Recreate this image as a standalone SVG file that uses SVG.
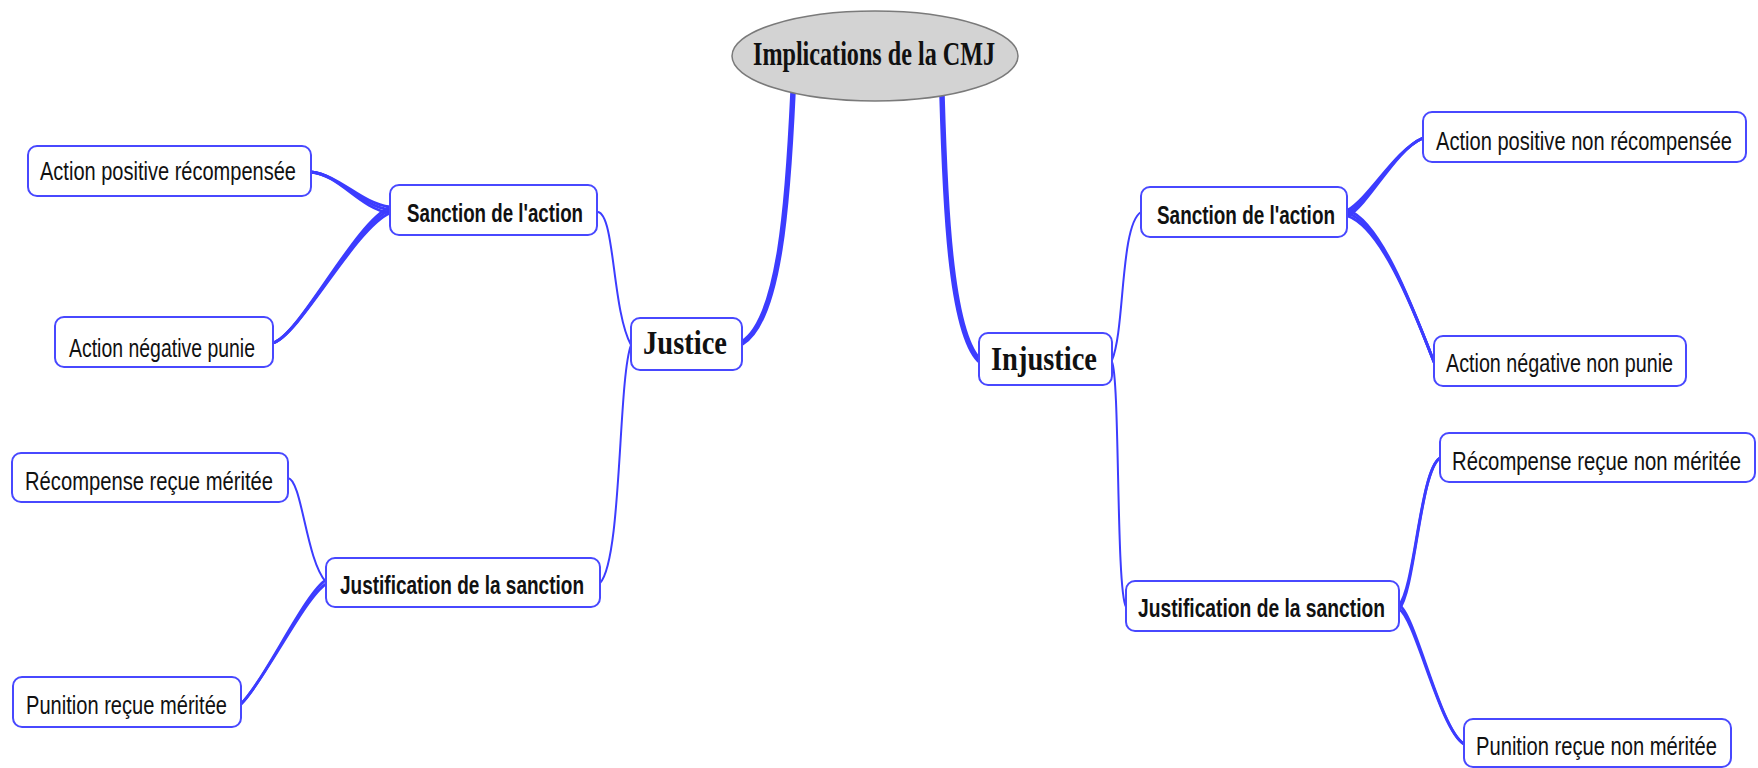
<svg xmlns="http://www.w3.org/2000/svg" width="1758" height="768" viewBox="0 0 1758 768">
<style>
.bg{fill:#ffffff}
.box{fill:#ffffff;stroke:#4848ff;stroke-width:2}
.root{fill:#d3d3d3;stroke:#7a7a7a;stroke-width:1.5}
.c{fill:none;stroke:#3c3cff;stroke-linecap:round}
.trunk{stroke-width:5.5}
.thin{stroke-width:2}
.fan{stroke-width:2.8}
.leaf{font-family:"Liberation Sans",Arial,sans-serif;font-size:25px;fill:#111}
.mid{font-family:"Liberation Sans",Arial,sans-serif;font-size:25px;font-weight:bold;fill:#111}
.big{font-family:"Liberation Serif","Times New Roman",serif;font-size:33px;font-weight:bold;fill:#111}
</style>
<rect class="bg" x="0" y="0" width="1758" height="768"/>
<g id="connectors">
  <path class="c trunk" d="M793 92 C788 200 780 320 742 343"/>
  <path class="c trunk" d="M942 95 C945 200 950 330 979 360"/>
  <path class="c thin" d="M598 212 C615 215 612 310 631 345"/>
  <path class="c thin" d="M631 345 C618 380 622 560 600 583"/>
  <path class="c thin" d="M1112 360 C1125 330 1120 225 1141 212"/>
  <path class="c thin" d="M1112 362 C1120 380 1116 590 1126 607"/>
  <path class="c fan" d="M311 172 C340 175 360 203 390 207"/>
  <path class="c fan" d="M311 172 C340 175 360 206 390 210"/>
  <path class="c fan" d="M311 172 C340 175 360 209 390 213"/>
  <path class="c fan" d="M390 207 C355 222 300 335 273 343"/>
  <path class="c fan" d="M390 210 C355 225 300 335 273 343"/>
  <path class="c fan" d="M390 213 C355 228 300 335 273 343"/>
  <path class="c thin" d="M288 478 C302 480 306 560 326 582"/>
  <path class="c fan" d="M326 580 C305 593 265 680 241 704"/>
  <path class="c fan" d="M326 584 C305 597 265 680 241 704"/>
  <path class="c fan" d="M1348 210 C1370 197 1395 150 1423 138"/>
  <path class="c fan" d="M1348 213 C1370 200 1395 150 1423 138"/>
  <path class="c fan" d="M1348 216 C1370 203 1395 150 1423 138"/>
  <path class="c fan" d="M1348 210 C1380 222 1410 300 1434 362"/>
  <path class="c fan" d="M1348 213 C1380 225 1410 300 1434 362"/>
  <path class="c fan" d="M1348 216 C1380 228 1410 300 1434 362"/>
  <path class="c fan" d="M1399 605 C1415 588 1420 470 1440 458"/>
  <path class="c fan" d="M1399 609 C1415 592 1420 470 1440 458"/>
  <path class="c fan" d="M1399 605 C1415 613 1440 730 1464 744"/>
  <path class="c fan" d="M1399 609 C1415 617 1440 730 1464 744"/>
</g>
<g id="n-root">
  <ellipse class="root" cx="875" cy="56" rx="143" ry="45"/>
  <text class="big" x="753" y="65" textLength="242" lengthAdjust="spacingAndGlyphs">Implications de la CMJ</text>
</g>
<g id="n-justice">
  <rect class="box" x="631" y="318" width="111" height="52" rx="9"/>
  <text class="big" x="643" y="354" textLength="84" lengthAdjust="spacingAndGlyphs">Justice</text>
</g>
<g id="n-injustice">
  <rect class="box" x="979" y="333" width="133" height="52" rx="9"/>
  <text class="big" x="991" y="370" textLength="106" lengthAdjust="spacingAndGlyphs">Injustice</text>
</g>
<g id="n-sanction-l">
  <rect class="box" x="390" y="185" width="207" height="50" rx="9"/>
  <text class="mid" transform="translate(407 222) scale(0.8 1)" x="0" y="0" textLength="220" lengthAdjust="spacingAndGlyphs">Sanction de l'action</text>
</g>
<g id="n-justif-l">
  <rect class="box" x="326" y="558" width="274" height="49" rx="9"/>
  <text class="mid" transform="translate(340 594) scale(0.8 1)" x="0" y="0" textLength="305" lengthAdjust="spacingAndGlyphs">Justification de la sanction</text>
</g>
<g id="n-apr">
  <rect class="box" x="28" y="146" width="283" height="50" rx="9"/>
  <text class="leaf" transform="translate(40 180) scale(0.8 1)" x="0" y="0" textLength="320" lengthAdjust="spacingAndGlyphs">Action positive récompensée</text>
</g>
<g id="n-anp">
  <rect class="box" x="55" y="317" width="218" height="50" rx="9"/>
  <text class="leaf" transform="translate(69 357) scale(0.8 1)" x="0" y="0" textLength="232.5" lengthAdjust="spacingAndGlyphs">Action négative punie</text>
</g>
<g id="n-rrm">
  <rect class="box" x="12" y="453" width="276" height="49" rx="9"/>
  <text class="leaf" transform="translate(25 490) scale(0.8 1)" x="0" y="0" textLength="310" lengthAdjust="spacingAndGlyphs">Récompense reçue méritée</text>
</g>
<g id="n-prm">
  <rect class="box" x="13" y="677" width="228" height="50" rx="9"/>
  <text class="leaf" transform="translate(26 714) scale(0.8 1)" x="0" y="0" textLength="251.25" lengthAdjust="spacingAndGlyphs">Punition reçue méritée</text>
</g>
<g id="n-sanction-r">
  <rect class="box" x="1141" y="187" width="206" height="50" rx="9"/>
  <text class="mid" transform="translate(1157 224) scale(0.8 1)" x="0" y="0" textLength="222.5" lengthAdjust="spacingAndGlyphs">Sanction de l'action</text>
</g>
<g id="n-justif-r">
  <rect class="box" x="1126" y="581" width="273" height="50" rx="9"/>
  <text class="mid" transform="translate(1138 617) scale(0.8 1)" x="0" y="0" textLength="308.75" lengthAdjust="spacingAndGlyphs">Justification de la sanction</text>
</g>
<g id="n-apnr">
  <rect class="box" x="1423" y="112" width="323" height="50" rx="9"/>
  <text class="leaf" transform="translate(1436 150) scale(0.8 1)" x="0" y="0" textLength="370" lengthAdjust="spacingAndGlyphs">Action positive non récompensée</text>
</g>
<g id="n-annp">
  <rect class="box" x="1434" y="336" width="252" height="50" rx="9"/>
  <text class="leaf" transform="translate(1446 372) scale(0.8 1)" x="0" y="0" textLength="283.75" lengthAdjust="spacingAndGlyphs">Action négative non punie</text>
</g>
<g id="n-rrnm">
  <rect class="box" x="1440" y="433" width="315" height="49" rx="9"/>
  <text class="leaf" transform="translate(1452 470) scale(0.8 1)" x="0" y="0" textLength="361.25" lengthAdjust="spacingAndGlyphs">Récompense reçue non méritée</text>
</g>
<g id="n-prnm">
  <rect class="box" x="1464" y="719" width="267" height="48" rx="9"/>
  <text class="leaf" transform="translate(1476 755) scale(0.8 1)" x="0" y="0" textLength="301.25" lengthAdjust="spacingAndGlyphs">Punition reçue non méritée</text>
</g>
</svg>
